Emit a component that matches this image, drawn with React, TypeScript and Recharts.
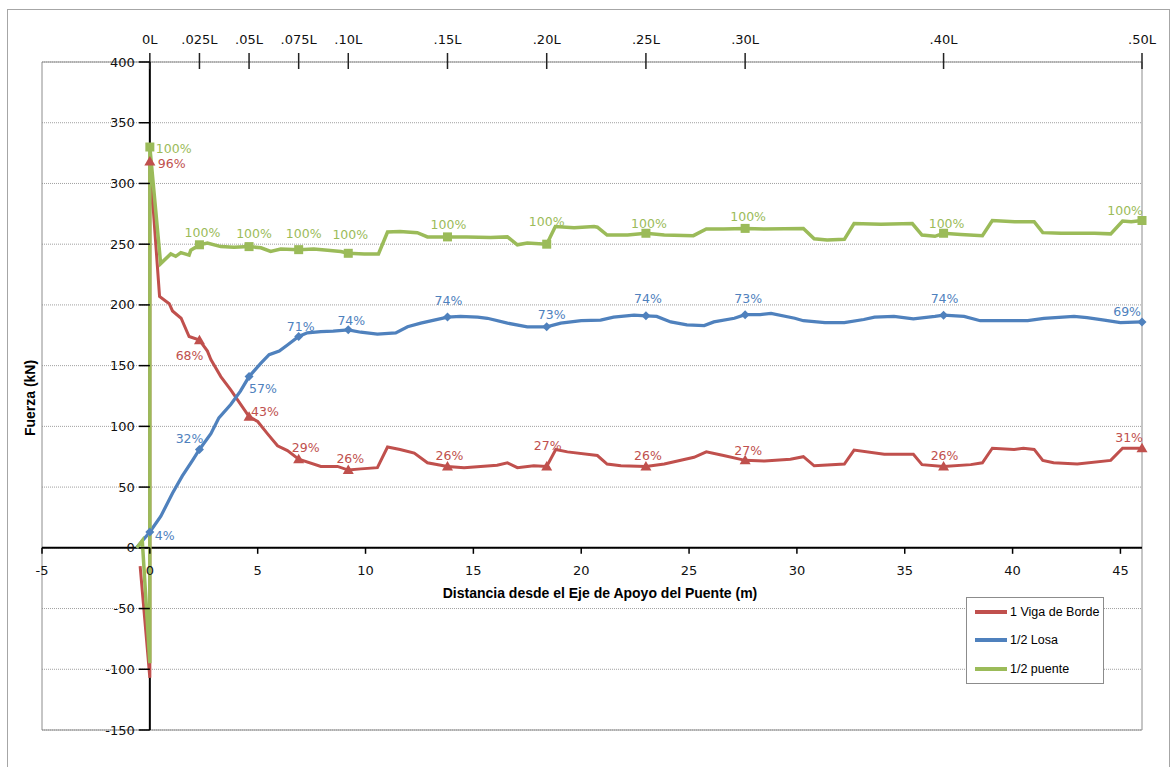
import React from 'react';
import { LineChart, Line, XAxis, YAxis, CartesianGrid, ReferenceLine, ReferenceArea } from 'recharts';

type Pt = [number, number, string?];

// span length L (m); top axis marks fractions of L
const SPAN = 92;
const stationFractions = [0, 0.025, 0.05, 0.075, 0.1, 0.15, 0.2, 0.25, 0.3, 0.4, 0.5];
const stationLabels = ['0L', '.025L', '.05L', '.075L', '.10L', '.15L', '.20L', '.25L', '.30L', '.40L', '.50L'];

const xTicks = [-5, 0, 5, 10, 15, 20, 25, 30, 35, 40, 45];
const yTicks = [-150, -100, -50, 0, 50, 100, 150, 200, 250, 300, 350, 400];

// [distance m, force kN, data label]
const vigaBorde: Pt[] = [
  [-0.45, -15], [0, -107], [0, 318, '96%'], [0.45, 207], [0.9, 201], [1.05, 195], [1.45, 189],
  [1.82, 174], [2.3, 171, '68%'], [2.67, 162], [2.83, 155], [3.29, 141], [3.75, 130], [4.06, 122],
  [4.6, 108, '43%'], [5.0, 104], [5.45, 94], [5.92, 84], [6.38, 80], [6.9, 73, '29%'], [7.93, 67],
  [8.7, 67], [9.2, 64, '26%'], [9.78, 65], [10.55, 66], [11.02, 83], [11.6, 81], [12.26, 78],
  [12.87, 70], [13.8, 67, '26%'], [14.57, 66], [16.1, 68], [16.58, 70], [17.04, 66], [17.8, 67.5],
  [18.4, 67, '27%'], [18.82, 81], [19.36, 79], [20.75, 76], [21.2, 69], [21.84, 67.5], [23, 67, '26%'],
  [23.85, 69], [25.23, 74.5], [25.8, 79], [26.6, 76], [27.6, 72, '27%'], [28.5, 71.5], [29.7, 73],
  [30.3, 75], [30.8, 67.5], [32.2, 69], [32.65, 80.5], [34.05, 77], [35.4, 77], [35.8, 68.5],
  [36.8, 67, '26%'], [38.06, 68.5], [38.6, 70], [39.06, 82], [40.07, 81], [40.5, 82], [41.0, 81],
  [41.4, 72], [41.9, 70], [43.0, 69], [44.55, 72], [45.1, 82], [46, 82, '31%'],
];

const losa: Pt[] = [
  [-0.62, 0], [0, 13, '4%'], [0.51, 26], [1.05, 45], [1.5, 59], [1.98, 72], [2.3, 81, '32%'],
  [2.83, 94], [3.2, 107], [3.75, 118], [4.2, 129], [4.6, 141, '57%'], [5.15, 152], [5.53, 159],
  [6.0, 162], [6.38, 167], [6.9, 174, '71%'], [7.3, 177], [7.93, 178], [8.5, 178.5], [9.2, 179.5, '74%'],
  [9.78, 177.5], [10.55, 176], [11.4, 177], [11.95, 182], [12.56, 185], [13.18, 187.5], [13.8, 190, '74%'],
  [14.4, 190.5], [15.2, 190], [15.65, 189], [16.58, 185], [17.5, 182], [18.4, 182, '73%'], [19.05, 185],
  [20, 187], [20.9, 187.5], [21.5, 190], [22.45, 191.5], [23, 191, '74%'], [23.5, 190.5], [24.15, 186],
  [24.9, 183.5], [25.7, 183], [26.15, 186], [27.1, 189], [27.6, 192, '73%'], [28.3, 192], [28.8, 193],
  [29.9, 189], [30.3, 187], [31.3, 185.5], [32.2, 185.5], [33.1, 188], [33.6, 190], [34.5, 190.5],
  [35.4, 188.5], [36.4, 190.5], [36.8, 191.5, '74%'], [37.75, 190.5], [38.5, 187], [39.6, 187],
  [40.7, 187], [41.45, 189], [42.85, 190.5], [43.45, 189.5], [44.25, 187.5], [45, 185.5], [46, 186, '69%'],
];

const puente: Pt[] = [
  [-0.6, 0], [-0.35, 6], [0, -95], [0, 330, '100%'], [0.5, 234], [0.97, 242], [1.2, 240], [1.44, 243],
  [1.82, 241], [1.9, 245], [2.3, 249.5, '100%'], [2.67, 251], [3.29, 248], [3.9, 247.5], [4.6, 248, '100%'],
  [5.15, 247], [5.6, 244], [6.07, 246], [6.9, 245.5, '100%'], [7.6, 246], [8.24, 245], [8.85, 244],
  [9.2, 242.5, '100%'], [9.94, 242], [10.6, 242], [11.02, 260], [11.6, 260.5], [12.4, 259.5], [12.87, 256],
  [13.8, 256, '100%'], [14.7, 256], [15.8, 255.5], [16.58, 256], [17.04, 249.5], [17.5, 251],
  [18.4, 250, '100%'], [18.8, 264.5], [19.67, 263.5], [20.6, 264.5], [20.75, 264], [21.2, 257.5],
  [22.15, 257.5], [23, 259, '100%'], [23.85, 257.5], [25.2, 257], [25.8, 262.5], [26.6, 262.5],
  [27.6, 263, '100%'], [28.5, 262.5], [30.3, 263], [30.8, 254.5], [31.4, 253.5], [32.2, 254], [32.65, 267],
  [33.9, 266.5], [35.35, 267], [35.8, 257.5], [36.4, 256.5], [36.8, 259, '100%'], [37.6, 258], [38.6, 257],
  [39.06, 269.5], [40.1, 268.5], [41.0, 268.5], [41.4, 259.5], [42.25, 259], [43.8, 259], [44.55, 258.5],
  [45.1, 269], [45.5, 268.5], [46, 269.5, '100%'],
];

// label placement per labelled point: [anchor, dx, dy of text centre]
type Place = ['start' | 'middle' | 'end', number, number];
const vigaPlace: Place[] = [
  ['start', 8, 2], ['end', 4, 15], ['start', 2, -5], ['middle', 7, -12], ['middle', 2, -12],
  ['middle', 2, -11], ['middle', 1, -21], ['middle', 2, -11], ['middle', 3, -10], ['middle', 1, -11],
  ['end', 1, -11],
];
const losaPlace: Place[] = [
  ['start', 5, 3], ['end', 4, -11], ['start', 0, 12], ['middle', 2, -10], ['middle', 3, -9],
  ['middle', 1, -17], ['middle', 5, -12], ['middle', 2, -17], ['middle', 3, -16], ['middle', 1, -17],
  ['end', -1, -10],
];
const puentePlace: Place[] = [
  ['start', 6, 1], ['middle', 3, -12], ['middle', 5, -13], ['middle', 5, -16], ['middle', 2, -19],
  ['middle', 1, -12], ['middle', 0, -23], ['middle', 3, -10], ['middle', 3, -12], ['middle', 3, -10],
  ['end', 1, -10],
];

const RED = '#C0504D';
const BLUE = '#4F81BD';
const GREEN = '#9BBB59';

// chart geometry
const W = 1161;
const H = 758;
const PLOT_LEFT = 34;
const PLOT_TOP = 52;
const PLOT_W = 1100;
const PLOT_H = 668;
const AXIS_H = 30;
const AXIS_W = 30;
const X_MIN = -5;
const X_MAX = 46;
const Y_MIN = -150;
const Y_MAX = 400;
const X0 = PLOT_LEFT + (PLOT_W * (0 - X_MIN)) / (X_MAX - X_MIN);
const Y0 = PLOT_TOP + (PLOT_H * (Y_MAX - 0)) / (Y_MAX - Y_MIN);

const TICK_FONT = '"DejaVu Sans", Verdana, sans-serif';
const TITLE_FONT = '"Liberation Sans Narrow", "Liberation Sans", sans-serif';

const toRows = (pts: Pt[]) => {
  let k = -1;
  return pts.map(([x, y, label]) => ({ x, y, label, k: label ? ++k : -1 }));
};

function makeDot(color: string, marker: string, place: Place[]) {
  return (props: any) => {
    const { cx, cy, payload, index } = props;
    if (!payload || !payload.label) return <g key={`d${index}`} />;
    const [anchor, dx, dy] = place[payload.k];
    let shape;
    if (marker === 'triangle') {
      shape = <polygon points={`${cx},${cy - 5.5} ${cx + 5.5},${cy + 4} ${cx - 5.5},${cy + 4}`} fill={color} />;
    } else if (marker === 'diamond') {
      shape = <polygon points={`${cx},${cy - 4.5} ${cx + 4.5},${cy} ${cx},${cy + 4.5} ${cx - 4.5},${cy}`} fill={color} />;
    } else {
      shape = <rect x={cx - 4.5} y={cy - 4.5} width={9} height={9} fill={color} />;
    }
    return (
      <g key={`d${index}`}>
        {shape}
        <text x={cx + dx} y={cy + dy + 4.5} textAnchor={anchor} fontSize={12.5} fontFamily={TICK_FONT} fill={color}>
          {payload.label}
        </text>
      </g>
    );
  };
}

const series = [
  { name: '1 Viga de Borde', rows: toRows(vigaBorde), color: RED, width: 3, dot: makeDot(RED, 'triangle', vigaPlace) },
  { name: '1/2 Losa', rows: toRows(losa), color: BLUE, width: 3.25, dot: makeDot(BLUE, 'diamond', losaPlace) },
  { name: '1/2 puente', rows: toRows(puente), color: GREEN, width: 3.5, dot: makeDot(GREEN, 'square', puentePlace) },
];

const topTicks = stationFractions.map((f) => f * SPAN);
// empty carrier so the top axis gets rendered
const topRows = topTicks.map((x) => ({ x, y: null }));

const renderBottomTick = (props: any) => {
  const { x, payload, index } = props;
  return (
    <g key={`b${index}`}>
      <line x1={x} x2={x} y1={Y0} y2={Y0 + 6} stroke="#000" strokeWidth={1.5} />
      <text x={x} y={Y0 + 27} textAnchor="middle" fontSize={13} fontFamily={TICK_FONT} fill="#111">
        {payload.value}
      </text>
    </g>
  );
};

const renderLeftTick = (props: any) => {
  const { y, payload, index } = props;
  return (
    <g key={`l${index}`}>
      <line x1={X0 - 11} x2={X0} y1={y} y2={y} stroke="#000" strokeWidth={1.5} />
      <text x={X0 - 15} y={y + 4.5} textAnchor="end" fontSize={13} fontFamily={TICK_FONT} fill="#111">
        {payload.value}
      </text>
    </g>
  );
};

const renderTopTick = (props: any) => {
  const { x, payload, index } = props;
  const i = topTicks.findIndex((t) => Math.abs(t - payload.value) < 1e-6);
  return (
    <g key={`t${index}`}>
      <line x1={x} x2={x} y1={PLOT_TOP - 9} y2={PLOT_TOP + 7} stroke="#222" strokeWidth={1.5} />
      <text x={x} y={PLOT_TOP - 18} textAnchor="middle" fontSize={13} fontFamily={TICK_FONT} fill="#111">
        {i >= 0 ? stationLabels[i] : ''}
      </text>
    </g>
  );
};

export default function App() {
  return (
    <>
      <style>{'body{margin:0;overflow:hidden}'}</style>
      <div
        style={{
          position: 'absolute',
          left: 7,
          top: 9,
          width: W,
          height: H,
          border: '1px solid #a6a6a6',
          background: '#fff',
        }}
      >
        <LineChart
          width={W}
          height={H}
          margin={{
            top: PLOT_TOP - AXIS_H,
            left: PLOT_LEFT - AXIS_W,
            right: W - PLOT_LEFT - PLOT_W,
            bottom: H - PLOT_TOP - PLOT_H - AXIS_H,
          }}
        >
          <CartesianGrid vertical={false} stroke="#a0a0a0" strokeDasharray="1 1" />
          <XAxis
            dataKey="x"
            type="number"
            domain={[X_MIN, X_MAX]}
            ticks={xTicks}
            interval={0}
            height={AXIS_H}
            axisLine={false}
            tickLine={false}
            tick={renderBottomTick}
          />
          <XAxis
            xAxisId="top"
            orientation="top"
            dataKey="x"
            type="number"
            domain={[X_MIN, X_MAX]}
            ticks={topTicks}
            interval={0}
            height={AXIS_H}
            axisLine={false}
            tickLine={false}
            tick={renderTopTick}
          />
          <YAxis
            type="number"
            domain={[Y_MIN, Y_MAX]}
            ticks={yTicks}
            interval={0}
            width={AXIS_W}
            axisLine={false}
            tickLine={false}
            tick={renderLeftTick}
          />
          <ReferenceArea x1={X_MIN} x2={X_MAX} y1={Y_MIN} y2={Y_MAX} fill="none" stroke="#8c8c8c" strokeWidth={1} />
          <ReferenceLine y={0} stroke="#000" strokeWidth={2} />
          <ReferenceLine x={0} stroke="#000" strokeWidth={2} />
          <Line
            xAxisId="top"
            data={topRows}
            dataKey="y"
            stroke="none"
            dot={false}
            activeDot={false}
            legendType="none"
            isAnimationActive={false}
          />
          {series.map((s) => (
            <Line
              key={s.name}
              name={s.name}
              data={s.rows}
              dataKey="y"
              type="linear"
              stroke={s.color}
              strokeWidth={s.width}
              dot={s.dot}
              activeDot={false}
              isAnimationActive={false}
            />
          ))}
        </LineChart>

        <div
          style={{
            position: 'absolute',
            left: 22,
            top: 388,
            transform: 'translate(-50%, -50%) rotate(-90deg)',
            whiteSpace: 'nowrap',
            fontFamily: TITLE_FONT,
            fontWeight: 'bold',
            fontSize: 14,
            color: '#000',
          }}
        >
          Fuerza (kN)
        </div>
        <div
          style={{
            position: 'absolute',
            left: 592,
            top: 583,
            transform: 'translate(-50%, -50%)',
            whiteSpace: 'nowrap',
            fontFamily: TITLE_FONT,
            fontWeight: 'bold',
            fontSize: 14,
            color: '#000',
          }}
        >
          Distancia desde el Eje de Apoyo del Puente (m)
        </div>

        <div
          style={{
            position: 'absolute',
            left: 958,
            top: 587,
            width: 136,
            height: 85,
            border: '1px solid #8c8c8c',
            background: '#fff',
            fontFamily: TITLE_FONT,
            fontSize: 12.5,
            color: '#000',
          }}
        >
          {series.map((s, i) => (
            <div
              key={s.name}
              style={{
                position: 'absolute',
                left: 8,
                top: [14, 42, 71][i] - 9,
                height: 18,
                lineHeight: '18px',
                display: 'flex',
                alignItems: 'center',
                whiteSpace: 'nowrap',
              }}
            >
              <span style={{ display: 'inline-block', width: 32, height: 4, background: s.color, marginRight: 3 }} />
              {s.name}
            </div>
          ))}
        </div>
      </div>
    </>
  );
}
